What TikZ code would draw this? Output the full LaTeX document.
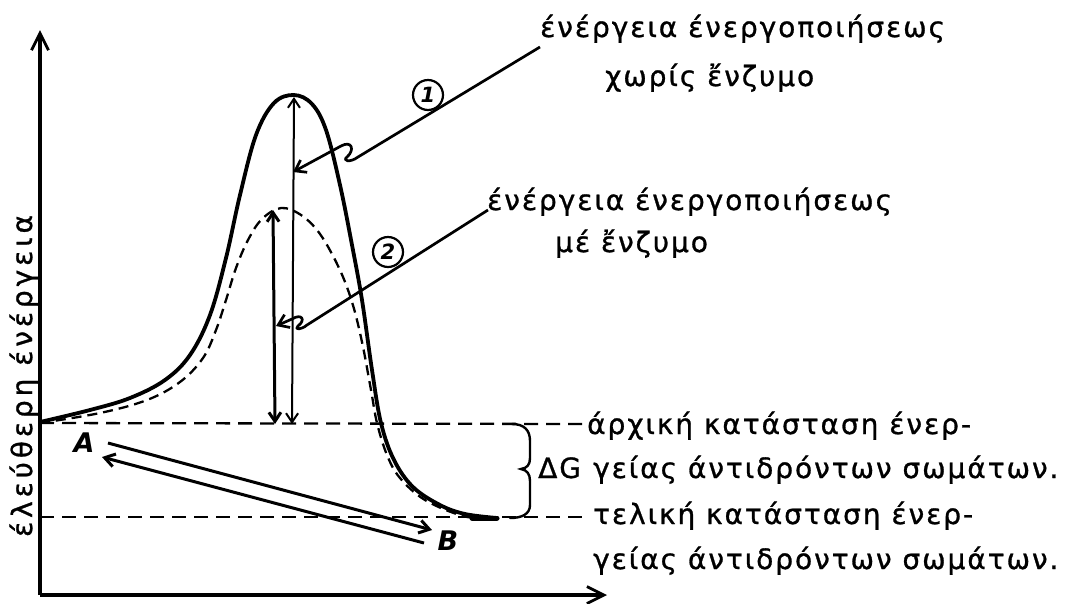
\documentclass[tikz,border=0pt]{standalone}
\usepackage{fontspec}
\setmainfont{DejaVu Sans}
\newfontfamily\tw{DejaVu Sans}[LetterSpace=7,FakeBold=1]
\newfontfamily\twwide{DejaVu Sans}[LetterSpace=14,FakeBold=1]
\usetikzlibrary{arrows.meta}
\begin{document}
\begin{tikzpicture}[x=1pt,y=-1pt,
  axis/.style={line width=3.2pt,-{Straight Barb[length=17pt,width=17pt,line width=2.8pt]}},
  curvesolid/.style={line width=3.8pt,line cap=round,line join=round},
  curvedash/.style={line width=2.3pt,dash pattern=on 10pt off 6pt},
  level/.style={line width=2.3pt,dash pattern=on 14pt off 8pt},
  dbl/.style={line width=2pt,{Straight Barb[length=9pt,width=12pt]}-{Straight Barb[length=9pt,width=12pt]}},
  dblthick/.style={line width=3pt,{Straight Barb[length=9pt,width=12pt]}-{Straight Barb[length=9pt,width=12pt]}},
  callout/.style={line width=2.7pt,line join=round,{Straight Barb[length=10pt,width=14pt]}-},
  slant/.style={line width=3pt,-{Straight Barb[length=10pt,width=13pt]}},
  txt/.style={anchor=base west,inner sep=0pt,font=\tw\fontsize{28}{32}\selectfont},
  lbl/.style={inner sep=0pt,font=\fontsize{27}{30}\selectfont\itshape\bfseries},
  circ/.style={circle,draw,line width=2.2pt,minimum size=30pt,inner sep=0pt,font=\fontsize{21}{22}\selectfont\itshape\bfseries}
]
\useasboundingbox (0,0) rectangle (1086,603);
% axes
\coordinate (O) at (40,595);
\coordinate (Ytop) at (40,30);
\coordinate (Xend) at (607,595);
\draw[axis] (O) -- (Ytop);
\draw[axis] (O) -- (Xend);
% energy levels
\coordinate (L1a) at (40,423);
\coordinate (L1b) at (583,424);
\coordinate (L2a) at (40,517);
\coordinate (L2b) at (583,517);
\draw[level] (L1a) -- (L1b);
\draw[level] (L2a) -- (L2b);
% solid curve (without enzyme)
\draw[curvesolid] plot[smooth,tension=0.6] coordinates {
 (40,422) (90,410) (130,398) (165,380) (190,355) (210,315) (226,258) (240,195)
 (256,135) (274,103) (294,95) (312,104) (326,130) (340,185) (352,245) (362,300)
 (372,370) (381,423) (394,460) (413,487) (440,505) (465,514) (497,518)};
\draw[line width=5pt,line cap=round] (472,518) -- (497,518);
% dashed curve (with enzyme)
\draw[curvedash] plot[smooth,tension=0.6] coordinates {
 (40,423) (100,413) (147,400) (180,382) (203,358) (216,330) (226,300) (236,268)
 (248,240) (262,219) (281,208) (301,215) (320,234) (339,268) (352,302) (362,342)
 (371,390) (377,423) (387,455) (400,478) (425,500) (463,516) (492,519)};
% activation energy arrows
\coordinate (P1) at (294,97);
\coordinate (B1) at (292,424);
\coordinate (P2) at (273,210);
\coordinate (B2) at (275,424);
\draw[dbl] (B1) -- (P1);
\draw[dblthick] (B2) -- (P2);
% callouts
\coordinate (C1) at (293,172);
\coordinate (E1) at (540,47);
\draw[callout] (C1) -- (341,146) .. controls (352,140) and (355,150) .. (347,157)
  .. controls (342,161) and (350,163) .. (358,157) -- (E1);
\coordinate (C2) at (276,326);
\coordinate (E2) at (488,210);
\draw[callout] (C2) -- (292,319) .. controls (302,313) and (306,320) .. (298,326)
  .. controls (294,330) and (301,330) .. (307,325) -- (E2);
\node[circ] (n1) at (428,95) {1};
\node[circ] (n2) at (388,252) {2};
% texts
\node[txt] (t1) at (540,37) {ένέργεια ένεργοποιήσεως};
\node[txt] (t2) at (605,86) {χωρίς ἔνζυμο};
\node[txt] (t3) at (487,210) {ένέργεια ένεργοποιήσεως};
\node[txt] (t4) at (555,252) {μέ ἔνζυμο};
\node[txt] (r1) at (587,434) {άρχική κατάσταση ένερ-};
\node[txt] (dg) at (538,478) {ΔG};
\node[txt] (r2) at (593,478) {γείας άντιδρόντων σωμάτων.};
\node[txt] (r3) at (593,524) {τελική κατάσταση ένερ-};
\node[txt] (r4) at (593,569) {γείας άντιδρόντων σωμάτων.};
\node[txt,font=\twwide\fontsize{28}{32}\selectfont,anchor=base,rotate=90] (yl) at (32,376) {έλεύθερη ένέργεια};
% brace
\coordinate (Bt) at (512,424);
\coordinate (Bb) at (510,518);
\draw[line width=2.4pt,line cap=round] (Bt) .. controls (524,424) and (530,430) .. (530,441)
  -- (530,458) .. controls (530,465) and (527,468) .. (521,469)
  .. controls (527,470) and (530,474) .. (530,481) -- (530,505)
  .. controls (530,514) and (522,518) .. (Bb);
% reaction arrows A <-> B
\node[lbl] (A) at (84,443) {A};
\node[lbl] (B) at (448,541) {B};
\coordinate (a1) at (108,443);
\coordinate (b1) at (432,530);
\coordinate (b2) at (424,543);
\coordinate (a2) at (102,457);
\draw[slant] (a1) -- (b1);
\draw[slant] (b2) -- (a2);
\end{tikzpicture}
\end{document}
